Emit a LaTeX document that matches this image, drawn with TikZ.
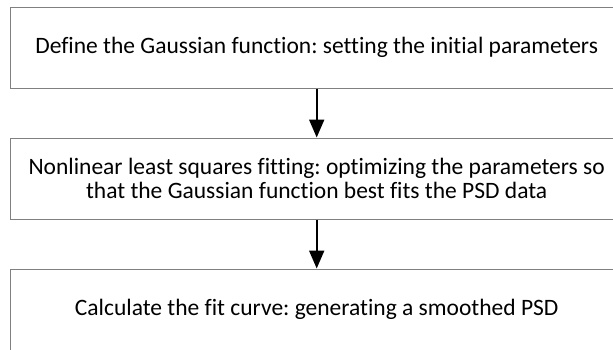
\documentclass[tikz,border=0pt]{standalone}
\usepackage{fontspec}
\setmainfont{Carlito}[Ligatures=NoCommon]
\usetikzlibrary{arrows.meta}
\frenchspacing

\begin{document}
\begin{tikzpicture}[x=1pt, y=-1pt,
    >={Triangle[length=18pt, width=15pt]},
    stage/.style={draw=gray, line width=1pt, minimum width=612pt,
        minimum height=81pt, inner sep=0pt, align=center,
        font=\fontsize{23.5}{23.5}\selectfont},
    flow/.style={->, line width=2pt}]
    \useasboundingbox (0,0) rectangle (613,349);

    \node[stage] (define) at (316.7,47.5) {Define the Gaussian function: setting the initial parameters};
    \node[stage] (fitting) at (316.7,178.5) {Nonlinear least squares fitting: optimizing the parameters so\\that the Gaussian function best fits the PSD data};
    \node[stage] (curve) at (316.7,309.5) {Calculate the fit curve: generating a smoothed PSD};

    \draw[flow] (define) -- (fitting);
    \draw[flow] (fitting) -- (curve);
\end{tikzpicture}
\end{document}
